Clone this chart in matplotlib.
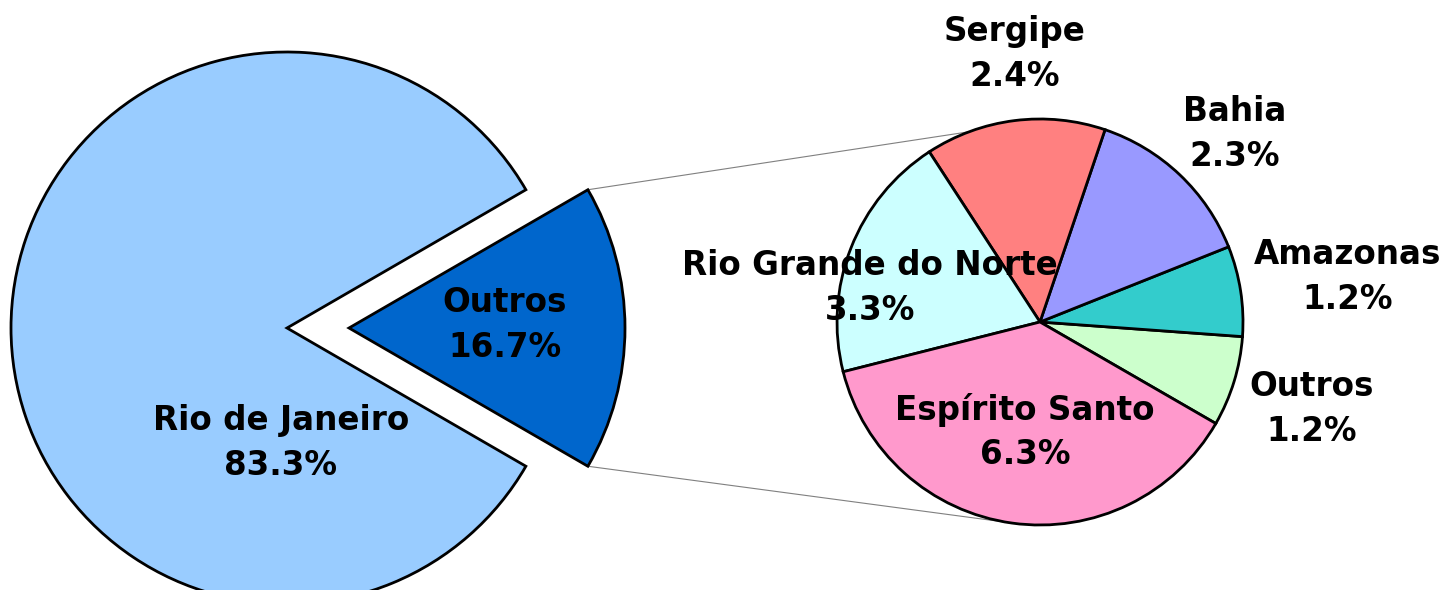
import numpy as np
import matplotlib
matplotlib.use("Agg")
import matplotlib.pyplot as plt

# ---- data ----
main_labels = ["Rio de Janeiro", "Outros"]
main_values = [83.3, 16.7]

sub_labels = ["Outros", "Amazonas", "Bahia", "Sergipe", "Rio Grande do Norte", "Espírito Santo"]
sub_values = [1.2, 1.2, 2.3, 2.4, 3.3, 6.3]

# ---- styles / layout ----
main_colors = ["#99CCFF", "#0066CC"]
sub_colors = ["#CCFFCC", "#33CCCC", "#9999FF", "#FF8080", "#CCFFFF", "#FF99CC"]

W, H = 1446, 590
fig = plt.figure(figsize=(W / 100, H / 100), dpi=100)
ax = fig.add_axes([0, 0, 1, 1])

main_center = (287, 262)
main_radius = 276
sub_center = (1040, 268)
sub_radius = 203

wp = dict(edgecolor="black", linewidth=2.0)
start_main = 360 * main_values[1] / sum(main_values) / 2
w_main, _ = ax.pie(main_values, colors=main_colors, startangle=start_main,
                   explode=[0, 62], center=main_center,
                   radius=main_radius, wedgeprops=wp, frame=True)
w_sub, _ = ax.pie(sub_values, colors=sub_colors, startangle=-30,
                  center=sub_center, radius=sub_radius, wedgeprops=wp, frame=True)

# connector lines from the exploded wedge to the secondary pie
ow = w_main[1]
cx, cy = ow.center
r = ow.r
top = (cx + r * np.cos(np.radians(ow.theta2)), cy + r * np.sin(np.radians(ow.theta2)))
bot = (cx + r * np.cos(np.radians(ow.theta1)), cy + r * np.sin(np.radians(ow.theta1)))
a_top, a_bot = np.radians(110.4), np.radians(-98.4)
end_top = (sub_center[0] + sub_radius * np.cos(a_top), sub_center[1] + sub_radius * np.sin(a_top))
end_bot = (sub_center[0] + sub_radius * np.cos(a_bot), sub_center[1] + sub_radius * np.sin(a_bot))
ax.plot([top[0], end_top[0]], [top[1], end_top[1]], color="#808080", lw=0.8, zorder=0)
ax.plot([bot[0], end_bot[0]], [bot[1], end_bot[1]], color="#808080", lw=0.8, zorder=0)

fs = 23.5
ls = 1.46
main_pos = [(281, 147), (505, 265)]
for lab, v, (x, y) in zip(main_labels, main_values, main_pos):
    ax.text(x, y, f"{lab}\n{v:.1f}%", ha="center", va="center", fontsize=fs,
            fontweight="bold", family="DejaVu Sans", linespacing=ls, zorder=5)

sub_pos = [(1312, 181), (1348, 313), (1235, 456), (1015, 536), (870, 302), (1025, 158)]
for lab, v, (x, y) in zip(sub_labels, sub_values, sub_pos):
    ax.text(x, y, f"{lab}\n{v:.1f}%", ha="center", va="center", fontsize=fs,
            fontweight="bold", family="DejaVu Sans", linespacing=ls, zorder=5)

ax.set_xlim(0, W)
ax.set_ylim(0, H)
ax.set_aspect("auto")
ax.axis("off")
fig.savefig("out.png", dpi=100, facecolor="white")
